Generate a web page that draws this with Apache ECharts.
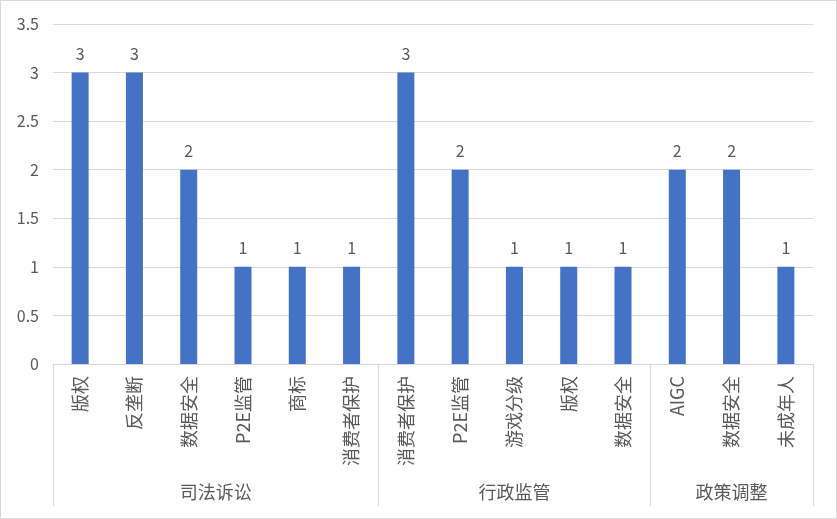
<!DOCTYPE html>
<html>
<head>
<meta charset="utf-8">
<script src="https://cdn.jsdelivr.net/npm/echarts@6/dist/echarts.min.js"></script>
<style>
  html, body { margin: 0; padding: 0; background: #fff; }
  #chart { width: 837px; height: 519px; box-sizing: border-box; border: 1px solid #d9d9d9; }
</style>
</head>
<body>
<div id="chart"></div>
<script>
// categories (first level) and their groups (second level)
const categories = ['版权', '反垄断', '数据安全', 'P2E监管', '商标', '消费者保护',
  '消费者保护', 'P2E监管', '游戏分级', '版权', '数据安全',
  'AIGC', '数据安全', '未成年人']
const groups = ['司法诉讼', '行政监管', '政策调整']
const groupSizes = [6, 5, 3]
const counts = [3, 3, 2, 1, 1, 1, 3, 2, 1, 1, 1, 2, 2, 1]

// group boundaries and centres, in category units
const bounds = [0]
groupSizes.forEach(n => bounds.push(bounds[bounds.length - 1] + n))
const centers = groupSizes.map((n, i) => bounds[i] + n / 2)

const font = '"Noto Sans CJK SC", "Noto Sans", sans-serif'
const txt = '#595959'
const lineCol = '#d9d9d9'

const chart = echarts.init(document.getElementById('chart'))
chart.setOption({
  animation: false,
  textStyle: { fontFamily: font },
  grid: { left: 52, right: 23, top: 23, bottom: 154 },
  xAxis: [
    {
      type: 'category',
      data: categories,
      axisLine: { lineStyle: { color: lineCol } },
      axisTick: { show: false },
      axisLabel: { rotate: 90, interval: 0, margin: 12, color: txt, fontSize: 18, fontFamily: font }
    },
    {
      type: 'value',
      position: 'bottom',
      offset: 142,
      min: 0,
      max: categories.length,
      axisLine: { show: false },
      splitLine: { show: false },
      axisTick: {
        show: true,
        inside: true,
        length: 142,
        customValues: bounds,
        lineStyle: { color: lineCol }
      },
      axisLabel: {
        inside: true,
        margin: 5,
        color: txt,
        fontSize: 18,
        fontFamily: font,
        customValues: centers,
        formatter: v => groups[centers.indexOf(v)] || ''
      }
    }
  ],
  yAxis: {
    type: 'value',
    min: 0,
    max: 3.5,
    interval: 0.5,
    axisLine: { show: false },
    axisTick: { show: false },
    splitLine: { lineStyle: { color: lineCol } },
    axisLabel: { color: txt, fontSize: 16, margin: 14, fontFamily: font }
  },
  series: [{
    type: 'bar',
    data: counts,
    barWidth: 17,
    itemStyle: { color: '#4472C4' },
    label: { show: true, position: 'top', distance: 11, color: txt, fontSize: 16, fontFamily: font }
  }]
})
</script>
</body>
</html>
